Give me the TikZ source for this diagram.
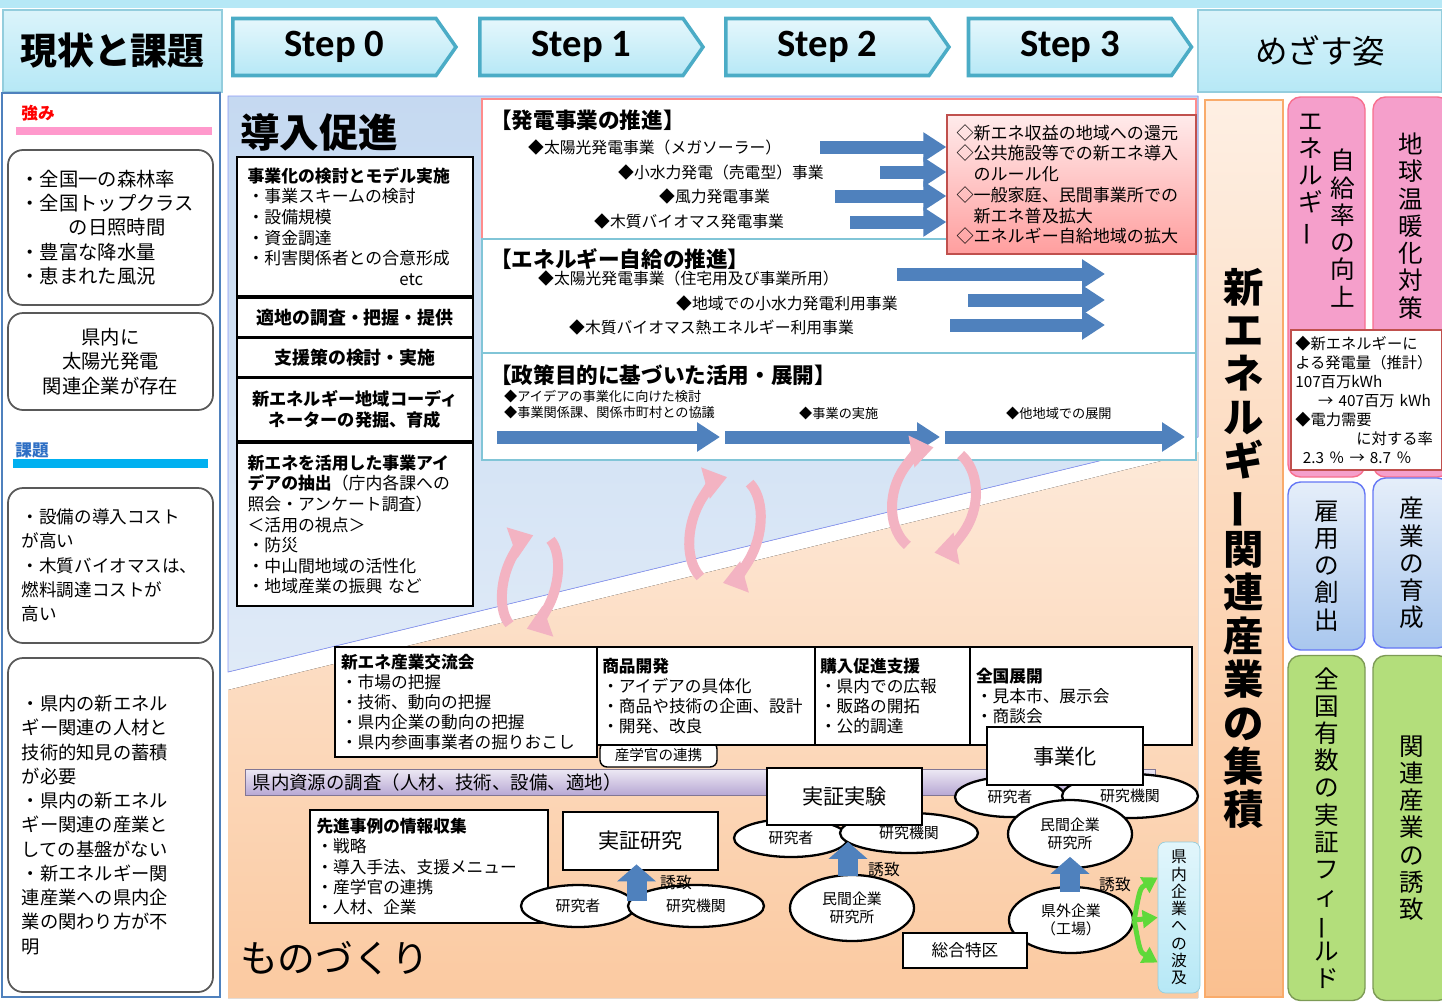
\documentclass[tikz,border=0pt]{standalone}
\usepackage{graphicx}
\usepackage{fontspec}
\setmainfont{Noto Sans CJK JP}
\newfontfamily\stepfont{Carlito}
\usetikzlibrary{positioning, arrows.meta, shapes.geometric, shapes.symbols, calc}

\definecolor{hdrcyan}{HTML}{B6E8F6}
\definecolor{hdredge}{HTML}{4BACC6}
\definecolor{introblue}{HTML}{C5D9F1}
\definecolor{makeorange}{HTML}{FAC090}
\definecolor{arrowblue}{HTML}{4F81BD}
\definecolor{goalpink}{HTML}{F59FCB}
\definecolor{goalblue}{HTML}{A9C7EE}
\definecolor{goalgreen}{HTML}{B3DE7B}
\definecolor{alertred}{HTML}{C0504D}
\definecolor{cyclepink}{HTML}{F3B3C2}
\definecolor{leafgreen}{HTML}{5FD93A}
\definecolor{barlilac}{HTML}{B8A8D4}
\definecolor{pinkbar}{HTML}{FF99CC}
\definecolor{cyanbar}{HTML}{00B0F0}
\definecolor{issueblue}{HTML}{2E6FC4}
\definecolor{clusterorange}{HTML}{F79646}

\newcommand{\tatebar}{\rotatebox[origin=c]{90}{ー}}
\newcommand{\fsz}[2]{\fontsize{#1}{#2}\selectfont}

\begin{document}
\begin{tikzpicture}[x=0.02cm, y=-0.02cm,
    sz/.style 2 args={minimum width=#1*0.02cm, minimum height=#2*0.02cm},
    stepbox/.style={signal, signal to=east, signal pointer angle=110, draw=hdredge,
                    line width=2pt, top color=hdrcyan!35, bottom color=hdrcyan,
                    inner sep=0pt, sz={223}{57}, font=\stepfont\bfseries\fsz{22}{26}},
    hdrbox/.style={rectangle, draw=hdredge!60, line width=0.8pt, top color=hdrcyan!50,
                   bottom color=hdrcyan, inner sep=0pt},
    leftbox/.style={rectangle, rounded corners=0.3cm, draw=black!65, line width=1pt,
                    fill=white, inner sep=2pt, font=\fsz{11}{13.8}},
    introbox/.style={rectangle, draw=black, line width=1.3pt, fill=white, inner sep=0.1cm,
                     font=\fsz{9.6}{11.7}},
    secbox/.style={rectangle, draw=#1, line width=0.8pt, fill=white, inner sep=0pt},
    sechead/.style={anchor=west, font=\bfseries\fsz{12.3}{14}},
    bizitem/.style={anchor=west, font=\fsz{9}{11}},
    smallitem/.style={anchor=west, font=\fsz{7.5}{9}},
    bigarrow/.style={draw=arrowblue, line width=0.26cm, -{Triangle[length=0.46cm, width=0.56cm]}},
    uparrow/.style={draw=arrowblue, line width=0.4cm, -{Triangle[length=0.34cm, width=0.76cm]}},
    turnarc/.style={draw=cyclepink, line width=0.2cm, -{Triangle[length=0.45cm, width=0.62cm]}},
    makebox/.style={rectangle, draw=black, line width=1.3pt, fill=white, inner sep=0.1cm,
                    font=\fsz{9.5}{11.5}},
    keybox/.style={rectangle, draw=black, line width=1.6pt, fill=white, font=\fsz{12}{14}},
    actor/.style={ellipse, draw=black, line width=1.3pt, fill=white, inner sep=0pt,
                  font=\fsz{8.5}{10.5}},
    invite/.style={font=\fsz{9}{10}},
    ripple/.style={draw=leafgreen, line width=0.1cm, -{Triangle[length=0.3cm, width=0.35cm]}},
    goalcol/.style={rectangle, rounded corners=0.25cm, line width=0.8pt, inner sep=0pt},
    tate/.style={align=center, font=\fsz{14}{15.5}},
    waveb/.style={rectangle, rounded corners=0.15cm, draw=hdredge!60, top color=hdrcyan!40,
                  bottom color=hdrcyan, sz={42}{151}, align=center, inner sep=0pt,
                  font=\fsz{9}{9.8}}
]
    \useasboundingbox (0,0) rectangle (1442,1001);
    \fill[white] (0,0) rectangle (1442,1001);
    \fill[hdrcyan] (0,0) rectangle (1442,8);

    % Header row
    \node[hdrbox, sz={219}{82}, font=\bfseries\fsz{21}{24}] (status) at (112.5,51) {現状と課題};
    \node[stepbox] (step0) at (334.5,47) {Step 0};
    \node[stepbox] (step1) at (581.5,47) {Step 1};
    \node[stepbox] (step2) at (827.5,47) {Step 2};
    \node[stepbox] (step3) at (1070,47) {Step 3};
    \node[hdrbox, sz={244}{82}, font=\fsz{18.5}{21}] (vision) at (1320,51) {めざす姿};

    % Left column: strengths and issues
    \draw[arrowblue, line width=1.5pt] (2,93) rectangle (220,997);
    \node[font=\bfseries\fsz{9.5}{11}, text=red] (strong) at (38,113) {強み};
    \fill[pinkbar] (16,127) rectangle (212,135);
    \node[leftbox, sz={205}{155}, text width=3.6cm, align=left] (strength1) at (110.5,227.5)
        {・全国一の森林率\\・全国トップクラス\\\hspace*{2.5em}の日照時間\\・豊富な降水量\\・恵まれた風況};
    \node[leftbox, sz={205}{97}, align=center] (strength2) at (110.5,361.5)
        {県内に\\太陽光発電\\関連企業が存在};
    \node[font=\bfseries\fsz{9.5}{11}, text=issueblue] (issue) at (32,450) {課題};
    \fill[cyanbar] (13,459) rectangle (208,468);
    \node[leftbox, sz={205}{155}, text width=3.55cm, align=left, font=\fsz{10}{13.8}] (issue1) at (110.5,565.5)
        {・設備の導入コスト\\が高い\\・木質バイオマスは、\\燃料調達コストが\\高い};
    \node[leftbox, sz={205}{334}, text width=3.55cm, align=left, font=\fsz{10.4}{13.8}] (issue2) at (110.5,825)
        {・県内の新エネル\\ギー関連の人材と\\技術的知見の蓄積\\が必要\\・県内の新エネル\\ギー関連の産業と\\しての基盤がない\\・新エネルギー関\\連産業への県内企\\業の関わり方が不\\明};

    % Two fields
    \fill[top color=introblue, bottom color=introblue!55!white, draw=introblue!70!blue]
        (228,96) -- (1198,96) -- (1198,437) -- (228,672) -- cycle;
    \fill[top color=makeorange!35!white, bottom color=makeorange!85!white]
        (228,690) -- (1198,452) -- (1198,998) -- (228,998) -- cycle;

    % Introduction
    \node[font=\bfseries\fsz{22.5}{26}, anchor=west] (intro) at (234,132) {導入促進};
    \node[introbox, sz={236}{139}, text width=4.3cm, align=left] (model) at (355,226.5)
        {{\bfseries 事業化の検討とモデル実施}\\・事業スキームの検討\\・設備規模\\・資金調達\\・利害関係者との合意形成\\\hspace*{9em}etc};
    \node[introbox, sz={236}{39}, font=\bfseries\fsz{10.2}{12}] (site) at (355,317.5) {適地の調査・把握・提供};
    \node[introbox, sz={236}{39}, font=\bfseries\fsz{10.2}{12}] (support) at (355,357.5) {支援策の検討・実施};
    \node[introbox, sz={236}{63}, align=center, font=\bfseries\fsz{9.8}{11.8}] (coord) at (355,409.5)
        {新エネルギー地域コーディ\\ネーターの発掘、育成};
    \node[introbox, sz={236}{163}, text width=4.3cm, align=left] (idea) at (355,524.5)
        {{\bfseries 新エネを活用した事業アイ}\\{\bfseries デアの抽出}（庁内各課への\\照会・アンケート調査）\\＜活用の視点＞\\・防災\\・中山間地域の活性化\\・地域産業の振興 など};

    % Power business
    \node[secbox=red!45, sz={714}{140}] (power) at (839,169) {};
    \node[sechead] (powerhead) at (484,120) {【発電事業の推進】};
    \node[bizitem] (solar) at (522,147) {◆太陽光発電事業（メガソーラー）};
    \node[bizitem] (hydro) at (612,172) {◆小水力発電（売電型）事業};
    \node[bizitem] (wind) at (653,196) {◆風力発電事業};
    \node[bizitem] (biomass) at (588,221) {◆木質バイオマス発電事業};

    % Self supply
    \node[secbox=hdredge!70, sz={714}{114}] (selfsupply) at (839,296) {};
    \node[sechead] (selfhead) at (484,259) {【エネルギー自給の推進】};
    \node[bizitem] (homesolar) at (532,278) {◆太陽光発電事業（住宅用及び事業所用）};
    \node[bizitem] (localhydro) at (670,303) {◆地域での小水力発電利用事業};
    \node[bizitem] (bioheat) at (563,327) {◆木質バイオマス熱エネルギー利用事業};
    \coordinate (selfend) at (1105,300);
    \draw[bigarrow] (897,274) -- (selfend |- 0,274);
    \draw[bigarrow] (968,300) -- (selfend);
    \draw[bigarrow] (950,325) -- (selfend |- 0,325);

    % Policy use
    \node[secbox=hdredge!70, sz={714}{107}] (policy) at (839,406.5) {};
    \node[sechead] (policyhead) at (484,375) {【政策目的に基づいた活用・展開】};
    \node[smallitem] (review) at (498,396) {◆アイデアの事業化に向けた検討};
    \node[smallitem] (consult) at (498,412) {◆事業関係課、関係市町村との協議};
    \node[smallitem] (execute) at (793,413) {◆事業の実施};
    \node[smallitem] (expand) at (1000,413) {◆他地域での展開};
    \coordinate (phase0) at (497,437);
    \coordinate (phase1) at (722,437);
    \coordinate (phase2) at (942,437);
    \coordinate (phase3) at (1185,437);
    \draw[bigarrow] (phase0) -- ($(phase1)+(-2,0)$);
    \draw[bigarrow] ($(phase1)+(3,0)$) -- ($(phase2)+(-2,0)$);
    \draw[bigarrow] ($(phase2)+(3,0)$) -- (phase3);

    % Returns to the region
    \node[rectangle, draw=alertred, line width=0.8pt, top color=red!8, bottom color=red!38,
          sz={249}{139}, text width=4.6cm, align=left, font=\fsz{9.7}{11.8}] (rewards) at (1071.5,184.5)
        {◇新エネ収益の地域への還元\\◇公共施設等での新エネ導入\\\hspace*{1em}のルール化\\◇一般家庭、民間事業所での\\\hspace*{1em}新エネ普及拡大\\◇エネルギー自給地域の拡大};
    \draw[bigarrow] (820,147) -- (rewards.west |- 0,147);
    \draw[bigarrow] (880,172) -- (rewards.west |- 0,172);
    \draw[bigarrow] (835,196) -- (rewards.west |- 0,196);
    \draw[bigarrow] (850,222) -- (rewards.west |- 0,222);

    % Cycles between the two fields
    \begin{scope}[shift={(530,582)}, rotate=-15]
        \draw[turnarc] (250:0.52cm and 0.98cm) arc[start angle=250, end angle=110, x radius=0.52cm, y radius=0.98cm];
        \draw[turnarc] (70:0.52cm and 0.98cm) arc[start angle=70, end angle=-70, x radius=0.52cm, y radius=0.98cm];
    \end{scope}
    \begin{scope}[shift={(725,530)}, rotate=-15]
        \draw[turnarc] (250:0.68cm and 1.1cm) arc[start angle=250, end angle=110, x radius=0.68cm, y radius=1.1cm];
        \draw[turnarc] (70:0.68cm and 1.1cm) arc[start angle=70, end angle=-70, x radius=0.68cm, y radius=1.1cm];
    \end{scope}
    \begin{scope}[shift={(934,500)}, rotate=-15]
        \draw[turnarc] (250:0.82cm and 1.08cm) arc[start angle=250, end angle=110, x radius=0.82cm, y radius=1.08cm];
        \draw[turnarc] (70:0.82cm and 1.08cm) arc[start angle=70, end angle=-70, x radius=0.82cm, y radius=1.08cm];
    \end{scope}

    % Manufacturing
    \node[makebox, line width=0.8pt, sz={117}{25}, rounded corners=4pt, font=\fsz{8.3}{10}] (triple) at (658.5,754.5) {産学官の連携};
    \node[makebox, sz={262}{110}, text width=5.0cm, align=left] (forum) at (466,702)
        {{\bfseries 新エネ産業交流会}\\・市場の把握\\・技術、動向の把握\\・県内企業の動向の把握\\・県内参画事業者の掘りおこし};
    \node[makebox, sz={218}{98}, text width=4.15cm, align=left] (product) at (706,696)
        {{\bfseries 商品開発}\\・アイデアの具体化\\・商品や技術の企画、設計\\・開発、改良};
    \node[makebox, sz={155}{98}, text width=2.9cm, align=left] (purchase) at (892.5,696)
        {{\bfseries 購入促進支援}\\・県内での広報\\・販路の開拓\\・公的調達};
    \node[makebox, sz={222}{98}, text width=4.2cm, align=left] (national) at (1081,696)
        {{\bfseries 全国展開}\\・見本市、展示会\\・商談会};

    \node[rectangle, draw=barlilac!70!black, top color=barlilac!25!white, bottom color=barlilac,
          sz={910}{26}, inner xsep=0.15cm, inner ysep=0pt, text width=17.9cm, align=left,
          font=\fsz{10.5}{12}] (survey) at (700,782) {県内資源の調査（人材、技術、設備、適地）};

    \node[makebox, sz={238}{113}, text width=4.5cm, align=left] (cases) at (429,866.5)
        {{\bfseries 先進事例の情報収集}\\・戦略\\・導入手法、支援メニュー\\・産学官の連携\\・人材、企業};

    % Demonstration research
    \node[actor, sz={114}{42}] (resL) at (578,906) {研究者};
    \node[actor, sz={136}{42}] (instL) at (696,906) {研究機関};
    \node[keybox, sz={155}{58}] (studyL) at (640.5,841) {実証研究};
    \draw[uparrow] ($(studyL.south)+(-4,30)$) -- ($(studyL.south)+(-4,-7)$);
    \node[invite] (inviteL) at (676,882) {誘致};

    % Demonstration test
    \node[actor, sz={114}{38}] (resM) at (791,838) {研究者};
    \node[actor, sz={138}{40}] (instM) at (909,833) {研究機関};
    \node[keybox, sz={155}{57}] (testM) at (844.5,796.5) {実証実験};
    \node[actor, sz={124}{66}, align=center] (privM) at (852,908) {民間企業\\研究所};
    \draw[uparrow] ($(privM.north)+(-4,2)$) -- ($(privM.north)+(-4,-32)$);
    \node[invite] (inviteM) at (884,869) {誘致};

    % Commercialisation
    \node[actor, sz={110}{40}] (resR) at (1010,797) {研究者};
    \node[actor, sz={136}{44}] (instR) at (1130,796) {研究機関};
    \node[keybox, sz={156}{58}] (bizR) at (1065,756) {事業化};
    \node[actor, sz={124}{68}, align=center] (privR) at (1070,834) {民間企業\\研究所};
    \node[actor, sz={124}{66}, align=center] (kengai) at (1071,920) {県外企業\\（工場）};
    \draw[uparrow] ($(kengai.north)+(-1,6)$) -- ($(kengai.north)+(-1,-29)$);
    \node[invite] (inviteR) at (1115,884) {誘致};
    \node[makebox, sz={124}{35}, align=center] (zone) at (965,950.5) {総合特区};
    \node[waveb] (wave) at (1179,917.5) {県\\内\\企\\業\\へ\\の\\波\\及};
    \draw[ripple] (kengai.east) .. controls (1140,888) .. ($(wave.west)+(0,-40)$);
    \draw[ripple] (kengai.east) -- (wave.west);
    \draw[ripple] (kengai.east) .. controls (1140,952) .. ($(wave.west)+(0,45)$);

    \node[anchor=west, font=\fsz{21.5}{24}] (craft) at (234,958) {ものづくり};

    % Vision column
    \node[rectangle, draw=clusterorange!80, line width=0.8pt, top color=clusterorange!15!white,
          bottom color=clusterorange!60!white, sz={78}{897}, inner sep=0pt, align=center,
          font=\bfseries\fsz{23}{24.7}] (cluster) at (1244,548.5)
        {新\\エ\\ネ\\ル\\ギ\\\tatebar\\関\\連\\産\\業\\の\\集\\積};
    \node[goalcol, draw=goalpink!70!red, fill=goalpink, sz={77}{380}] (selfrate) at (1326.5,287) {};
    \node[tate] (selfrateA) at (1311,180) {エ\\ネ\\ル\\ギ\\\tatebar};
    \node[tate] (selfrateB) at (1343,228) {自\\給\\率\\の\\向\\上};
    \node[goalcol, draw=goalpink!70!red, fill=goalpink, sz={77}{380}] (warming) at (1411.5,287) {};
    \node[tate] (warmingtxt) at (1411,226) {地\\球\\温\\暖\\化\\対\\策};
    \node[rectangle, draw=alertred, line width=1.4pt, fill=white, sz={151}{140}, text width=2.85cm,
          align=left, inner sep=2pt, font=\fsz{8.7}{10.8}] (outputbox) at (1366.5,400)
        {◆新エネルギーに\\よる発電量（推計）\\107百万kWh\\\hspace*{1.5em}→ 407百万 kWh\\◆電力需要\\\hspace*{4em}に対する率\\\hspace*{0.5em}2.3 ％ → 8.7 ％};
    \node[goalcol, tate, draw=goalblue!60!blue, top color=goalblue!30!white, bottom color=goalblue,
          sz={77}{168}] (jobs) at (1326.5,566) {雇\\用\\の\\創\\出};
    \node[goalcol, tate, draw=goalblue!60!blue, top color=goalblue!30!white, bottom color=goalblue,
          sz={77}{170}] (growth) at (1411.5,563) {産\\業\\の\\育\\成};
    \node[goalcol, tate, draw=goalgreen!70!black, fill=goalgreen, sz={77}{345}] (field) at (1326.5,828)
        {全\\国\\有\\数\\の\\実\\証\\フ\\ィ\\\tatebar\\ル\\ド};
    \node[goalcol, tate, draw=goalgreen!70!black, fill=goalgreen, sz={77}{345}] (attract) at (1411.5,828)
        {関\\連\\産\\業\\の\\誘\\致};
\end{tikzpicture}
\end{document}
